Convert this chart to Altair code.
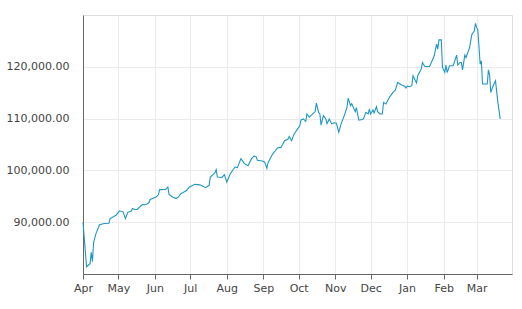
import altair as alt
import pandas as pd

dates = [
    "2022-04-01", "2022-04-04", "2022-04-07", "2022-04-08", "2022-04-09", "2022-04-10",
    "2022-04-12", "2022-04-15", "2022-04-19", "2022-04-23", "2022-04-24", "2022-04-29",
    "2022-05-02", "2022-05-05", "2022-05-07", "2022-05-09", "2022-05-12", "2022-05-13",
    "2022-05-15", "2022-05-17", "2022-05-21", "2022-05-25", "2022-05-27", "2022-05-28",
    "2022-06-02", "2022-06-04", "2022-06-05", "2022-06-10", "2022-06-12", "2022-06-13",
    "2022-06-16", "2022-06-19", "2022-06-21", "2022-06-23", "2022-06-25", "2022-06-28",
    "2022-06-30", "2022-07-05", "2022-07-09", "2022-07-10", "2022-07-14", "2022-07-17",
    "2022-07-18", "2022-07-22", "2022-07-23", "2022-07-24", "2022-07-28", "2022-07-30",
    "2022-08-01", "2022-08-04", "2022-08-08", "2022-08-10", "2022-08-13", "2022-08-16",
    "2022-08-19", "2022-08-22", "2022-08-24", "2022-08-26", "2022-08-27", "2022-08-31",
    "2022-09-02", "2022-09-03", "2022-09-04", "2022-09-05", "2022-09-09", "2022-09-13",
    "2022-09-16", "2022-09-19", "2022-09-22", "2022-09-23", "2022-09-25", "2022-09-27",
    "2022-09-30", "2022-10-02", "2022-10-03", "2022-10-05", "2022-10-07", "2022-10-08",
    "2022-10-10", "2022-10-15", "2022-10-16", "2022-10-18", "2022-10-19", "2022-10-20",
    "2022-10-22", "2022-10-24", "2022-10-25", "2022-10-27", "2022-10-29", "2022-10-31",
    "2022-11-02", "2022-11-04", "2022-11-06", "2022-11-09", "2022-11-11", "2022-11-12",
    "2022-11-14", "2022-11-15", "2022-11-18", "2022-11-19", "2022-11-21", "2022-11-24",
    "2022-11-25", "2022-11-27", "2022-11-29", "2022-11-30", "2022-12-01", "2022-12-03",
    "2022-12-04", "2022-12-06", "2022-12-07", "2022-12-09", "2022-12-11", "2022-12-12",
    "2022-12-14", "2022-12-17", "2022-12-20", "2022-12-22", "2022-12-24", "2022-12-27",
    "2022-12-30", "2022-12-31", "2023-01-01", "2023-01-03", "2023-01-05", "2023-01-06",
    "2023-01-09", "2023-01-10", "2023-01-13", "2023-01-14", "2023-01-16", "2023-01-20",
    "2023-01-21", "2023-01-24", "2023-01-26", "2023-01-27", "2023-01-28", "2023-01-30",
    "2023-01-31", "2023-02-02", "2023-02-03", "2023-02-04", "2023-02-06", "2023-02-09",
    "2023-02-10", "2023-02-12", "2023-02-13", "2023-02-15", "2023-02-16", "2023-02-17",
    "2023-02-19", "2023-02-20", "2023-02-23", "2023-02-25", "2023-02-27", "2023-02-28",
    "2023-03-01", "2023-03-02", "2023-03-04", "2023-03-05", "2023-03-06", "2023-03-10",
    "2023-03-11", "2023-03-12", "2023-03-13", "2023-03-15", "2023-03-17", "2023-03-19",
    "2023-03-21",
]

values = [
    90000, 81400, 82000, 84200, 82400, 86100,
    87800, 89500, 89750, 89800, 90700, 91350,
    92200, 92000, 90700, 91900, 92170, 92630,
    92440, 92460, 93350, 93460, 93790, 94380,
    94870, 95290, 96290, 96300, 96790, 95380,
    94870, 94560, 94870, 95510, 95730, 96150,
    96770, 97310, 97210, 97120, 96670, 97120,
    98710, 99560, 100140, 98710, 98650, 99190,
    97750, 99370, 100650, 100540, 102270, 101310,
    100890, 102270, 102750, 102620, 101940, 101810,
    101620, 101120, 100400, 101500, 103200, 104340,
    104440, 105730, 106050, 106560, 105730, 107000,
    107980, 108650, 109750, 109940, 109460, 110900,
    110260, 111350, 112980, 111150, 110900, 108750,
    110580, 109940, 109040, 109940, 108980, 109190,
    109100, 107370, 108980, 110770, 112210, 113940,
    112500, 112880, 111350, 112110, 109690, 109810,
    110000, 111210, 110900, 111870, 110900, 111670,
    111100, 112310, 111350, 110900, 110900, 113130,
    112820, 114100, 115060, 115480, 116980, 116540,
    116250, 115900, 116250, 116150, 116350, 118270,
    116870, 118270, 119560, 120830, 120060, 120060,
    120520, 122120, 124370, 123400, 125190, 125190,
    119870, 118900, 120340, 118900, 120190, 120190,
    120830, 122250, 120330, 120830, 120830, 119420,
    122250, 121790, 123710, 126290, 126920, 128400,
    127560, 127120, 120480, 121150, 116670, 116670,
    119420, 118400, 115060, 116350, 117310, 113130,
    109940,
]

y_ticks = [90000, 100000, 110000, 120000]
x_domain = ["2022-04-01", "2023-03-31"]
y_domain = [80000, 130000]

df = pd.DataFrame({"date": dates, "value": values})

FONT = "DejaVu Sans"

chart = (
    alt.Chart(df)
    .mark_line(color="#1f97c4", strokeWidth=1.1, interpolate="linear")
    .encode(
        x=alt.X(
            "date:T",
            title=None,
            scale=alt.Scale(type="utc", domain=x_domain, nice=False),
            axis=alt.Axis(
                labelExpr="utcFormat(datum.value, '%b')",
                tickCount={"interval": "month", "step": 1},
                labelFlush=False,
                labelOverlap=False,
                labelAlign="center",
                tickSize=5,
                labelPadding=3,
                labelFontSize=11,
                labelFont=FONT,
                labelColor="#444444",
                domainColor="#666666",
                tickColor="#666666",
                gridColor="#ebebeb",
                grid=True,
            ),
        ),
        y=alt.Y(
            "value:Q",
            title=None,
            scale=alt.Scale(domain=y_domain, nice=False, zero=False),
            axis=alt.Axis(
                values=y_ticks,
                format=",.2f",
                ticks=False,
                tickSize=0,
                labelPadding=14,
                labelFontSize=11,
                labelFont=FONT,
                labelColor="#444444",
                domainColor="#666666",
                gridColor="#ebebeb",
                grid=True,
            ),
        ),
    )
    .properties(
        width=429,
        height=259,
        autosize=alt.AutoSizeParams(type="none"),
        padding={"left": 83, "top": 15, "right": 10, "bottom": 35},
    )
    .configure_view(stroke=None)
    .configure(background="white")
)

chart.save("out.html", embed_options={"renderer": "svg", "actions": False})
